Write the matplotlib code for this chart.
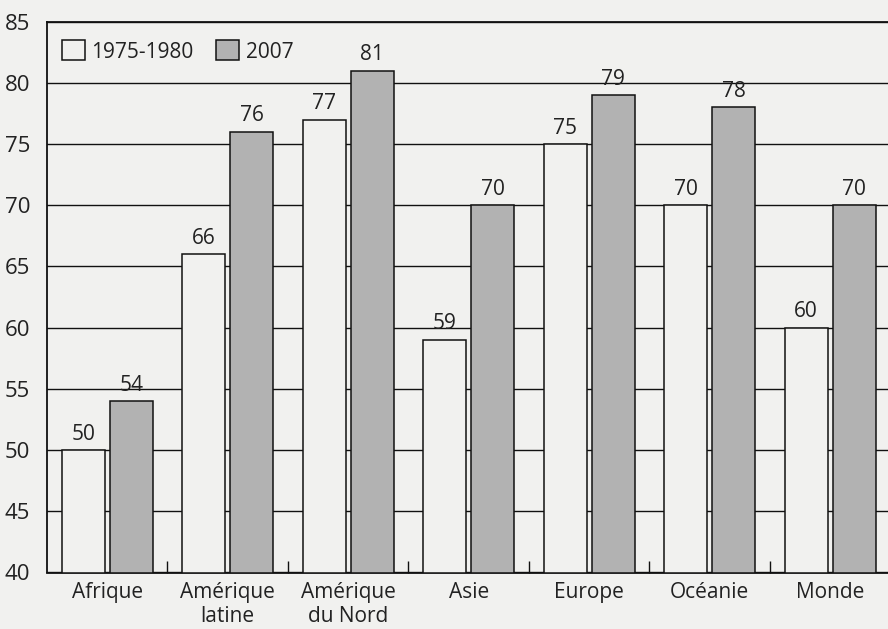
import matplotlib
matplotlib.use("Agg")
import matplotlib.pyplot as plt
import numpy as np

categories = ["Afrique", "Amérique\nlatine", "Amérique\ndu Nord", "Asie", "Europe", "Océanie", "Monde"]
vals_1975 = [50, 66, 77, 59, 75, 70, 60]
vals_2007 = [54, 76, 81, 70, 79, 78, 70]
series_names = ["1975-1980", "2007"]
yticks = [40, 45, 50, 55, 60, 65, 70, 75, 80, 85]

bg = "#f1f1ef"
gray = "#b2b2b2"
txt = "#222222"

plt.rcParams['font.family'] = ['Open Sans', 'DejaVu Sans']

fig = plt.figure(figsize=(8.88, 6.29), dpi=100, facecolor=bg)
ax = fig.add_axes([47/888, 1-572.5/629, 1-47/888, (572.5-21.7)/629])
ax.set_facecolor(bg)

x = np.arange(len(categories))
w = 0.357
off = 0.2
ax.bar(x - off, np.array(vals_1975) - 40, bottom=40, width=w, color=bg,
       edgecolor="#111111", linewidth=1.1, zorder=3, label=series_names[0])
ax.bar(x + off, np.array(vals_2007) - 40, bottom=40, width=w, color=gray,
       edgecolor="#111111", linewidth=1.1, zorder=3, label=series_names[1])

for xi, v in zip(x - off, vals_1975):
    ax.text(xi, v + 0.45, str(v), ha="center", va="bottom", fontsize=15, color=txt, zorder=4)
for xi, v in zip(x + off, vals_2007):
    ax.text(xi, v + 0.45, str(v), ha="center", va="bottom", fontsize=15, color=txt, zorder=4)

ax.set_ylim(40, 85)
ax.set_xlim(-0.5, 6.48)
ax.set_yticks(yticks)
ax.set_yticklabels([str(t) for t in yticks], fontsize=16, color=txt)
ax.tick_params(axis="y", length=0, pad=12)
ax.yaxis.grid(True, color="#111111", linewidth=1.0, zorder=0)
ax.set_axisbelow(True)

ax.set_xticks(x)
ax.set_xticklabels(categories, fontsize=15, color=txt, linespacing=1.2)
ax.tick_params(axis="x", length=0, pad=7)
ax.set_xticks(np.arange(0.5, 6.5, 1.0), minor=True)
ax.tick_params(axis="x", which="minor", direction="in", length=9, width=1.0, color="#111111")

for s in ["left", "top", "bottom"]:
    ax.spines[s].set_linewidth(1.3)
    ax.spines[s].set_color("#111111")
ax.spines["right"].set_visible(False)

ax.legend(loc="upper left", ncol=2, frameon=False, fontsize=15,
          handlelength=1.1, handleheight=1.1, handletextpad=0.3,
          columnspacing=1.1, borderpad=0, borderaxespad=0,
          bbox_to_anchor=(0.018, 0.966), labelcolor=txt)

fig.savefig("out.png", dpi=100, facecolor=bg)
